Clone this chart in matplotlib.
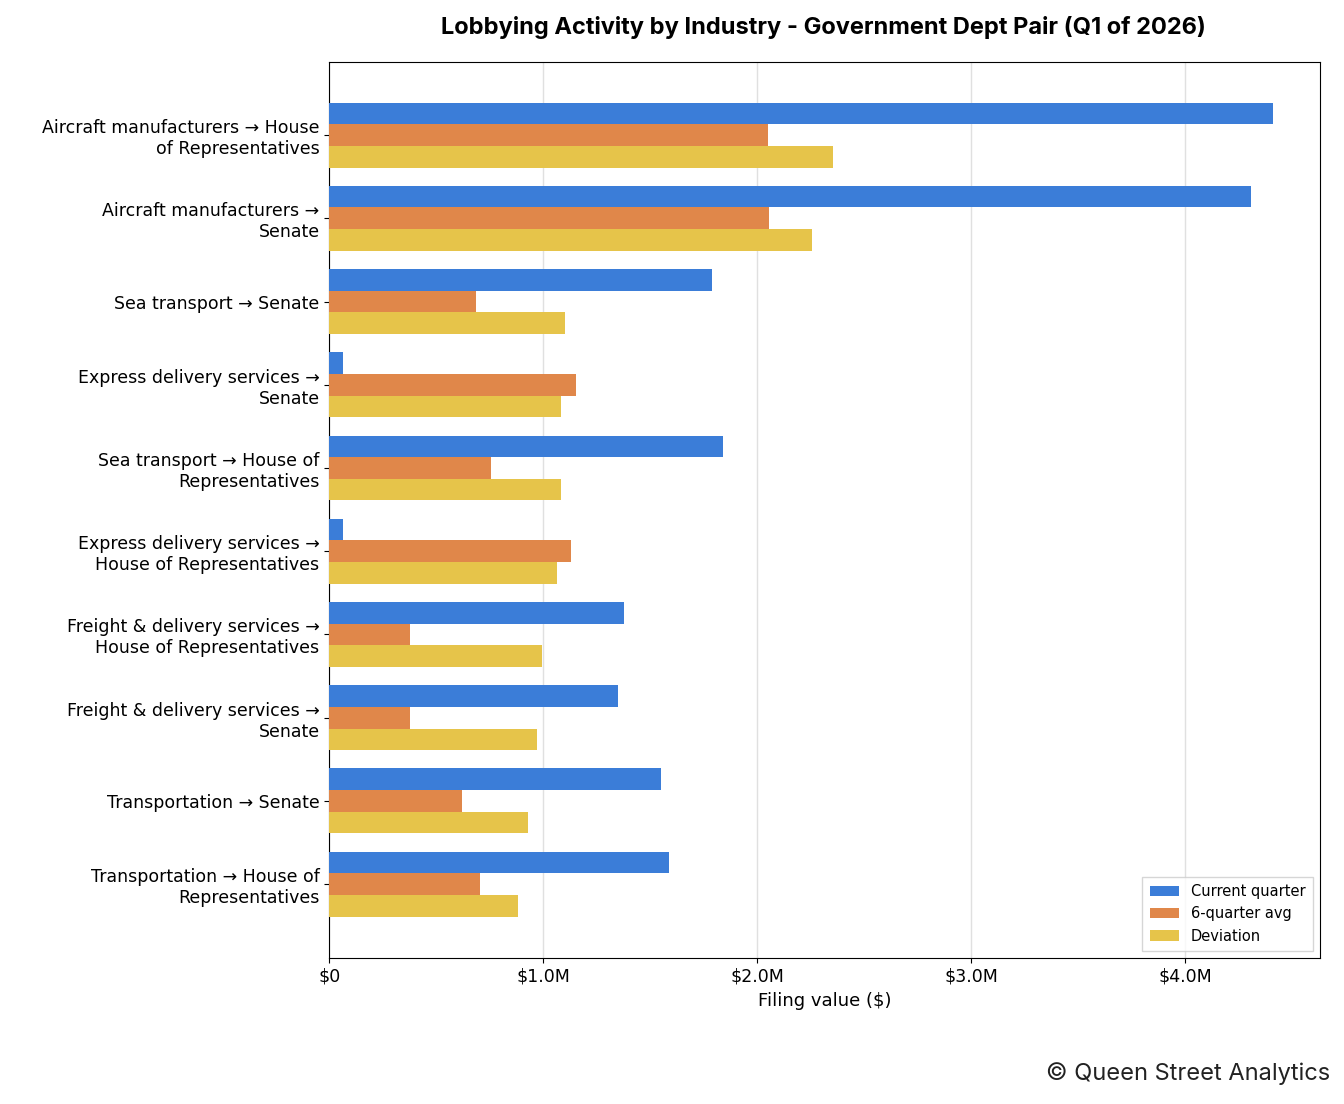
import matplotlib
matplotlib.use("Agg")
import matplotlib.pyplot as plt
import numpy as np
from matplotlib.ticker import FuncFormatter

categories = [
    "Aircraft manufacturers → House\nof Representatives",
    "Aircraft manufacturers →\nSenate",
    "Sea transport → Senate",
    "Express delivery services →\nSenate",
    "Sea transport → House of\nRepresentatives",
    "Express delivery services →\nHouse of Representatives",
    "Freight & delivery services →\nHouse of Representatives",
    "Freight & delivery services →\nSenate",
    "Transportation → Senate",
    "Transportation → House of\nRepresentatives",
]
current = [4.41, 4.31, 1.79, 0.065, 1.841, 0.065, 1.379, 1.350, 1.551, 1.589]
avg6 = [2.05, 2.056, 0.687, 1.154, 0.757, 1.131, 0.379, 0.379, 0.621, 0.706]
deviation = [2.355, 2.257, 1.103, 1.084, 1.084, 1.065, 0.995, 0.972, 0.930, 0.883]

plt.rcParams['font.family'] = ['DejaVu Sans']
fig = plt.figure(figsize=(13.44, 11.04), dpi=100)
ax = fig.add_axes([0.245, 0.132, 0.737, 0.812])
y = np.arange(len(categories))
h = 0.26
ax.barh(y - h, np.array(current) * 1e6, height=h, color="#3b7dd8", label="Current quarter", zorder=3)
ax.barh(y, np.array(avg6) * 1e6, height=h, color="#e0874a", label="6-quarter avg", zorder=3)
ax.barh(y + h, np.array(deviation) * 1e6, height=h, color="#e6c44a", label="Deviation", zorder=3)
ax.set_yticks(y)
ax.set_yticklabels(categories, fontsize=12.5)
ax.set_ylim(9.89, -0.88)
ax.set_xlim(0, 4.63e6)
ax.set_xticks([0, 1e6, 2e6, 3e6, 4e6])
ax.xaxis.set_major_formatter(FuncFormatter(lambda v, p: "$0" if v == 0 else f"${v/1e6:.1f}M"))
ax.tick_params(axis='x', labelsize=12.5)
ax.grid(axis='x', color="#e0e0e0", linewidth=1, zorder=0)
ax.set_xlabel("Filing value ($)", fontsize=13)
ax.legend(loc="lower right", fontsize=10.5, fancybox=False, borderpad=0.5)
fig.text(0.613, 0.975, "Lobbying Activity by Industry - Government Dept Pair (Q1 of 2026)",
         ha="center", va="center", fontsize=17, fontweight="bold", family=["Inter", "DejaVu Sans"])
fig.text(0.99, 0.028, "© Queen Street Analytics", ha="right", va="center", fontsize=17,
         family=["Inter", "DejaVu Sans"], color="#222222")
fig.savefig("out.png", dpi=100)
